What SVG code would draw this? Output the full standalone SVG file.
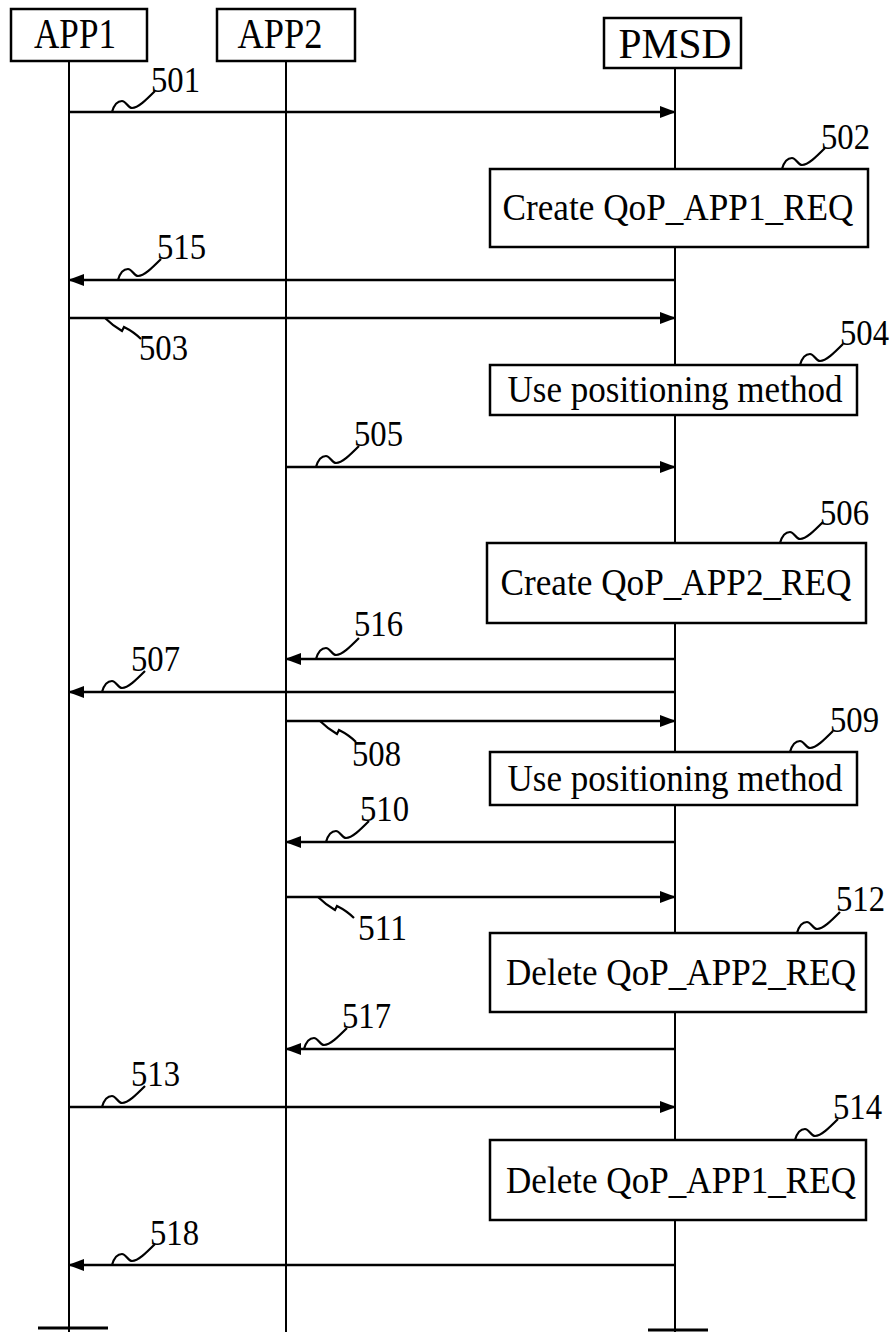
<svg xmlns="http://www.w3.org/2000/svg" width="892" height="1332" viewBox="0 0 892 1332">
<style>
.box{fill:#fff;stroke:#000;stroke-width:2.5}
.life{stroke:#000;stroke-width:2;fill:none}
.msg{stroke:#000;stroke-width:2.5;fill:none}
.sq{stroke:#000;stroke-width:2.2;fill:none}
.hd{font-family:"Liberation Serif",serif;font-size:42px;fill:#000;text-anchor:middle}
.bt{font-family:"Liberation Serif",serif;font-size:37px;fill:#000;text-anchor:middle}
.num{font-family:"Liberation Serif",serif;font-size:35px;fill:#000}
</style>
<defs>
<marker id="ah" markerWidth="16" markerHeight="12" refX="15" refY="6" orient="auto" markerUnits="userSpaceOnUse">
<path d="M0,0 L16,6 L0,12 Z" fill="#000"/>
</marker>
<path id="squp" d="M0,0 C2,-7 6,-11 10,-11 C14,-11 16,-4 20,-4 C26,-4 34,-12 43,-21"/>
<path id="sqdn" d="M0,0 C5,5 12,10 17,13 L19,9 C25,12 31,16 36,21"/>
</defs>
<rect width="892" height="1332" fill="#fff"/>
<g id="lifelines">
<line class="life" x1="69" y1="60" x2="69" y2="1332"/>
<line class="life" x1="286" y1="60" x2="286" y2="1332"/>
<line class="life" x1="675" y1="68" x2="675" y2="1332"/>
<line stroke="#000" stroke-width="3" x1="38" y1="1328" x2="108" y2="1328"/>
<line stroke="#000" stroke-width="3" x1="648" y1="1330" x2="708" y2="1330"/>
</g>
<g id="APP1"><rect class="box" x="11" y="9" width="136" height="52"/><text class="hd" x="75" y="48" textLength="82" lengthAdjust="spacingAndGlyphs">APP1</text></g>
<g id="APP2"><rect class="box" x="217" y="9" width="138" height="52"/><text class="hd" x="280" y="48" textLength="85" lengthAdjust="spacingAndGlyphs">APP2</text></g>
<g id="PMSD"><rect class="box" x="604" y="18" width="137" height="50"/><text class="hd" x="675" y="58" textLength="113" lengthAdjust="spacingAndGlyphs">PMSD</text></g>
<g id="box502"><rect class="box" x="490" y="169" width="378" height="78"/><text class="bt" x="678" y="220" textLength="351" lengthAdjust="spacingAndGlyphs">Create QoP_APP1_REQ</text></g>
<g id="box504"><rect class="box" x="490" y="365" width="367" height="50"/><text class="bt" x="675" y="402" textLength="335" lengthAdjust="spacingAndGlyphs">Use positioning method</text></g>
<g id="box506"><rect class="box" x="487" y="543" width="379" height="80"/><text class="bt" x="676" y="595" textLength="351" lengthAdjust="spacingAndGlyphs">Create QoP_APP2_REQ</text></g>
<g id="box509"><rect class="box" x="490" y="752" width="367" height="53"/><text class="bt" x="675" y="791" textLength="335" lengthAdjust="spacingAndGlyphs">Use positioning method</text></g>
<g id="box512"><rect class="box" x="490" y="933" width="376" height="79"/><text class="bt" x="681" y="985" textLength="350" lengthAdjust="spacingAndGlyphs">Delete QoP_APP2_REQ</text></g>
<g id="box514"><rect class="box" x="490" y="1140" width="376" height="80"/><text class="bt" x="681" y="1193" textLength="350" lengthAdjust="spacingAndGlyphs">Delete QoP_APP1_REQ</text></g>
<g id="connectors">
<line class="msg" x1="69" y1="112" x2="675" y2="112" marker-end="url(#ah)"/>
<line class="msg" x1="675" y1="280" x2="69" y2="280" marker-end="url(#ah)"/>
<line class="msg" x1="69" y1="318" x2="675" y2="318" marker-end="url(#ah)"/>
<line class="msg" x1="286" y1="467" x2="675" y2="467" marker-end="url(#ah)"/>
<line class="msg" x1="675" y1="659" x2="286" y2="659" marker-end="url(#ah)"/>
<line class="msg" x1="675" y1="692" x2="69" y2="692" marker-end="url(#ah)"/>
<line class="msg" x1="286" y1="721" x2="675" y2="721" marker-end="url(#ah)"/>
<line class="msg" x1="675" y1="842" x2="286" y2="842" marker-end="url(#ah)"/>
<line class="msg" x1="286" y1="897" x2="675" y2="897" marker-end="url(#ah)"/>
<line class="msg" x1="675" y1="1049" x2="286" y2="1049" marker-end="url(#ah)"/>
<line class="msg" x1="69" y1="1107" x2="675" y2="1107" marker-end="url(#ah)"/>
<line class="msg" x1="675" y1="1265" x2="69" y2="1265" marker-end="url(#ah)"/>
</g>
<g id="labels">
<use href="#squp" class="sq" x="112" y="112"/><text class="num" x="151" y="92" textLength="49" lengthAdjust="spacingAndGlyphs">501</text>
<use href="#squp" class="sq" x="782" y="169"/><text class="num" x="821" y="149" textLength="49" lengthAdjust="spacingAndGlyphs">502</text>
<use href="#squp" class="sq" x="118" y="280"/><text class="num" x="157" y="259" textLength="49" lengthAdjust="spacingAndGlyphs">515</text>
<use href="#sqdn" class="sq" x="105" y="318"/><text class="num" x="139" y="360" textLength="49" lengthAdjust="spacingAndGlyphs">503</text>
<use href="#squp" class="sq" x="800" y="365"/><text class="num" x="840" y="345" textLength="49" lengthAdjust="spacingAndGlyphs">504</text>
<use href="#squp" class="sq" x="316" y="467"/><text class="num" x="354" y="446" textLength="49" lengthAdjust="spacingAndGlyphs">505</text>
<use href="#squp" class="sq" x="780" y="543"/><text class="num" x="820" y="525" textLength="49" lengthAdjust="spacingAndGlyphs">506</text>
<use href="#squp" class="sq" x="316" y="659"/><text class="num" x="354" y="636" textLength="49" lengthAdjust="spacingAndGlyphs">516</text>
<use href="#squp" class="sq" x="102" y="692"/><text class="num" x="131" y="671" textLength="49" lengthAdjust="spacingAndGlyphs">507</text>
<use href="#sqdn" class="sq" x="320" y="721"/><text class="num" x="352" y="766" textLength="49" lengthAdjust="spacingAndGlyphs">508</text>
<use href="#squp" class="sq" x="790" y="752"/><text class="num" x="830" y="732" textLength="49" lengthAdjust="spacingAndGlyphs">509</text>
<use href="#squp" class="sq" x="326" y="842"/><text class="num" x="360" y="821" textLength="49" lengthAdjust="spacingAndGlyphs">510</text>
<use href="#sqdn" class="sq" x="318" y="897"/><text class="num" x="358" y="940" textLength="49" lengthAdjust="spacingAndGlyphs">511</text>
<use href="#squp" class="sq" x="797" y="933"/><text class="num" x="836" y="911" textLength="49" lengthAdjust="spacingAndGlyphs">512</text>
<use href="#squp" class="sq" x="304" y="1049"/><text class="num" x="342" y="1028" textLength="49" lengthAdjust="spacingAndGlyphs">517</text>
<use href="#squp" class="sq" x="102" y="1107"/><text class="num" x="131" y="1086" textLength="49" lengthAdjust="spacingAndGlyphs">513</text>
<use href="#squp" class="sq" x="795" y="1140"/><text class="num" x="833" y="1119" textLength="49" lengthAdjust="spacingAndGlyphs">514</text>
<use href="#squp" class="sq" x="112" y="1265"/><text class="num" x="150" y="1245" textLength="49" lengthAdjust="spacingAndGlyphs">518</text>
</g>
</svg>
